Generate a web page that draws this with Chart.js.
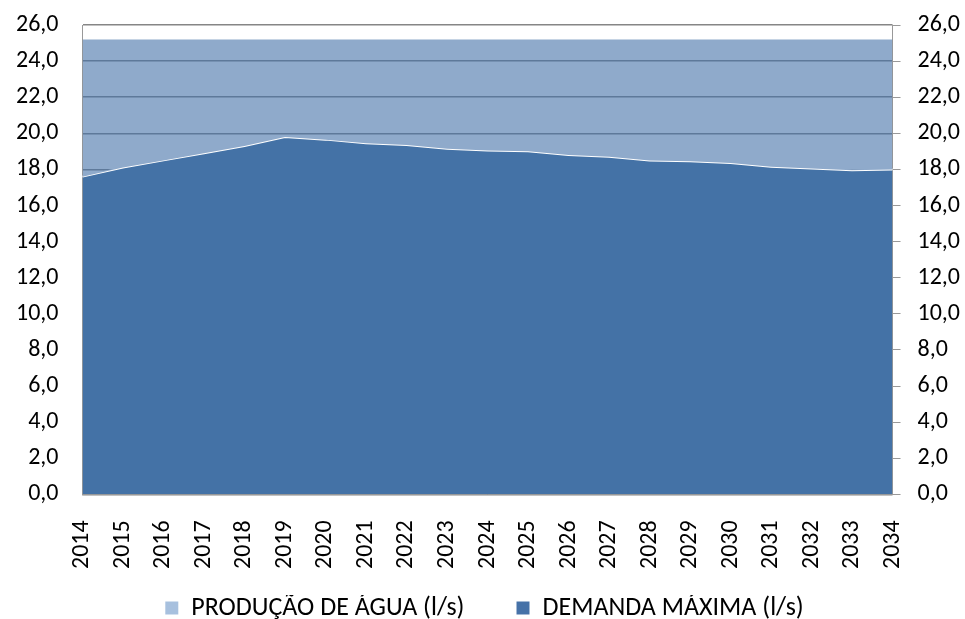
<!DOCTYPE html>
<html>
<head>
<meta charset="utf-8">
<script src="https://cdn.jsdelivr.net/npm/chart.js@4"></script>
<style>
  body { margin: 0; background: #fff; }
  #wrap { width: 965px; height: 619px; }
</style>
</head>
<body>
<div id="wrap"><canvas id="chart" width="965" height="619"></canvas></div>
<script>
const years = ['2014', '2015', '2016', '2017', '2018', '2019', '2020', '2021', '2022', '2023', '2024',
    '2025', '2026', '2027', '2028', '2029', '2030', '2031', '2032', '2033', '2034'];
const producao = [25.2, 25.2, 25.2, 25.2, 25.2, 25.2, 25.2, 25.2, 25.2, 25.2, 25.2,
    25.2, 25.2, 25.2, 25.2, 25.2, 25.2, 25.2, 25.2, 25.2, 25.2];
const demanda = [17.6, 18.1, 18.5, 18.9, 19.3, 19.8, 19.65, 19.45, 19.35, 19.15, 19.05,
    19.0, 18.8, 18.7, 18.5, 18.45, 18.35, 18.15, 18.05, 17.95, 18.0];
const seriesNames = ['PRODUÇÃO DE ÁGUA (l/s)', 'DEMANDA MÁXIMA (l/s)'];
const legendColors = ['#A7C0DE', '#4672A8'];

const fontSpec = { family: 'Carlito, Lato, sans-serif', size: 24 };
const fmt = v => v.toFixed(1).replace('.', ',');
// the tick padding of the value axes should not push the plot down
const noVertPad = scale => { scale.paddingTop = 0; scale.paddingBottom = 0; };

const ctx = document.getElementById('chart').getContext('2d');
new Chart(ctx, {
    type: 'line',
    data: {
        labels: years,
        datasets: [{
            label: seriesNames[0],
            data: producao,
            backgroundColor: 'rgba(68,114,168,0.6)',
            borderWidth: 0,
            pointRadius: 0,
            fill: 1
        }, {
            label: seriesNames[1],
            data: demanda,
            backgroundColor: '#4472A6',
            borderColor: '#ffffff',
            borderWidth: 2,
            pointRadius: 0,
            fill: 'origin'
        }]
    },
    options: {
        responsive: false,
        animation: false,
        layout: { padding: { left: -8, right: -12, top: 25, bottom: -12 } },
        plugins: {
            tooltip: { enabled: false },
            legend: {
                position: 'bottom',
                labels: {
                    color: '#000',
                    font: { family: 'Carlito, Lato, sans-serif', size: 26 },
                    boxWidth: 13,
                    boxHeight: 13,
                    padding: 0,
                    generateLabels: function (chart) {
                        return chart.data.datasets.map(function (ds, i) {
                            // em spaces keep the gap between the two legend entries
                            return {
                                text: i === 0 ? ds.label + '\u2003\u2003' : ds.label,
                                fillStyle: legendColors[i],
                                strokeStyle: legendColors[i],
                                lineWidth: 0,
                                datasetIndex: i
                            };
                        });
                    }
                }
            }
        },
        scales: {
            x: {
                offset: false,
                grid: { display: false },
                border: { color: '#999', width: 1 },
                ticks: { color: '#000', font: fontSpec, minRotation: 90, maxRotation: 90, padding: 18 },
                afterFit: function (scale) { scale.height += 8; }
            },
            y: {
                position: 'left',
                min: 0, max: 26,
                grid: { color: '#868686', lineWidth: 1.5, drawTicks: false },
                border: { color: '#999', width: 1 },
                ticks: { stepSize: 2, color: '#000', font: fontSpec, padding: 24, callback: fmt },
                afterFit: noVertPad
            },
            y2: {
                position: 'right',
                min: 0, max: 26,
                grid: { drawOnChartArea: false, color: '#999', tickLength: 8 },
                border: { color: '#999', width: 1 },
                ticks: { stepSize: 2, color: '#000', font: fontSpec, padding: 17, callback: fmt },
                afterFit: noVertPad
            }
        }
    }
});
</script>
</body>
</html>
